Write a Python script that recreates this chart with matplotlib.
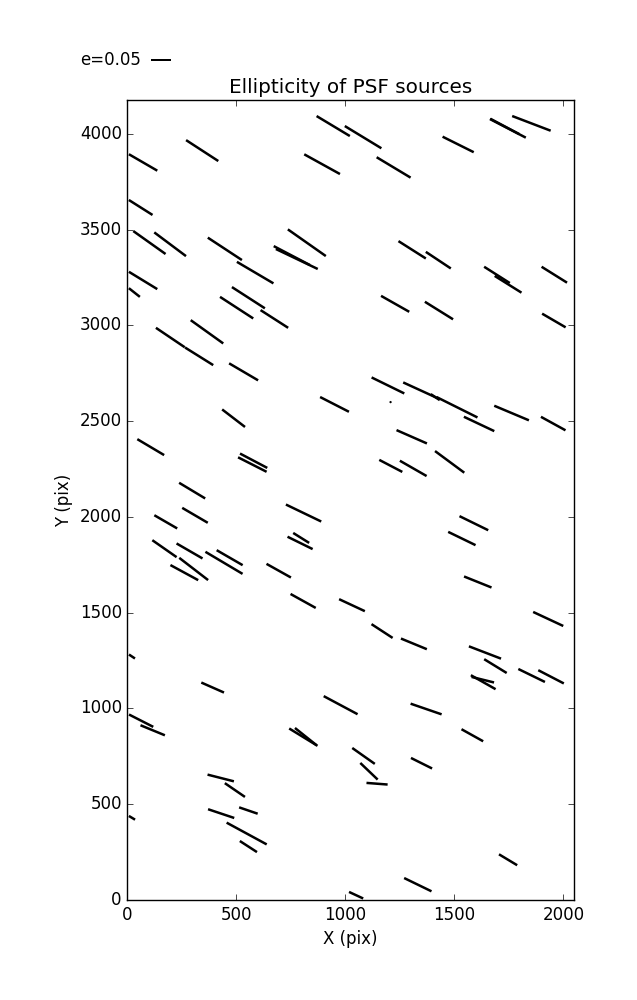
import numpy as np
import matplotlib
matplotlib.use('Agg')
import matplotlib.pyplot as plt

# source positions (pix), ellipticity and whisker angle (deg)
x_pix = [944, 1081, 343, 72, 893, 61, 101, 196, 447, 823,
         754, 777, 586, 72, 32, 555, 501, 1221, 1517, 1745,
         1731, 1853, 1306, 1426, 1695, 1746, 1958, 1228, 1429, 1956,
         674, 197, 329, 365, 533, 950, 487, 107, 579, 573,
         297, 1195, 1345, 1512, 1412, 1207, 1762, 1613, 1953, 1304,
         1478, 1208, 1311, 176, 310, 808, 792, 797, 170, 285,
         443, 469, 261, 304, 694, 806, 1030, 21, 391, 1589,
         1534, 1607, 1168, 1314, 1930, 1640, 1688, 1854, 1943, 1632,
         1630, 978, 63, 116, 807, 818, 428, 493, 430, 555,
         547, 555, 21, 1370, 1582, 1083, 1108, 1145, 1349, 1746,
         1332, 1049]
y_pix = [4040, 3982, 3912, 3850, 3841, 3615, 3432, 3423, 3399, 3431,
         3364, 3346, 3275, 3234, 3171, 3144, 3092, 3824, 3944, 4028,
         4038, 4054, 3394, 3340, 3263, 3214, 3264, 3112, 3077, 3025,
         3033, 2936, 2838, 2966, 2757, 2587, 2515, 2364, 2293, 2273,
         2137, 2686, 2660, 2572, 2625, 2599, 2542, 2485, 2487, 2418,
         2287, 2266, 2253, 1974, 2008, 2020, 1864, 1890, 1834, 1822,
         1760, 1787, 1709, 1728, 1719, 1561, 1539, 1271, 1109, 1967,
         1887, 1660, 1404, 1337, 1467, 1292, 1221, 1172, 1165, 1137,
         1150, 1017, 936, 886, 850, 853, 637, 574, 451, 467,
         347, 279, 429, 997, 860, 752, 672, 607, 714, 210,
         80, 25]
ellip = [0.097, 0.107, 0.096, 0.082, 0.102, 0.070, 0.099, 0.099, 0.102, 0.116,
         0.102, 0.116, 0.106, 0.083, 0.035, 0.098, 0.099, 0.099, 0.087, 0.101,
         0.082, 0.103, 0.081, 0.075, 0.076, 0.079, 0.075, 0.081, 0.083, 0.068,
         0.082, 0.087, 0.083, 0.100, 0.084, 0.081, 0.072, 0.078, 0.077, 0.080,
         0.076, 0.091, 0.096, 0.114, 0.027, 0.006, 0.094, 0.084, 0.070, 0.083,
         0.091, 0.065, 0.077, 0.066, 0.074, 0.098, 0.070, 0.047, 0.074, 0.075,
         0.108, 0.075, 0.079, 0.091, 0.070, 0.072, 0.071, 0.018, 0.062, 0.080,
         0.076, 0.074, 0.063, 0.070, 0.083, 0.086, 0.066, 0.074, 0.072, 0.071,
         0.058, 0.096, 0.068, 0.066, 0.083, 0.069, 0.068, 0.061, 0.069, 0.049,
         0.114, 0.051, 0.018, 0.082, 0.062, 0.069, 0.060, 0.053, 0.059, 0.053,
         0.076, 0.039]
pa_deg = [-31.0, -31.3, -33.0, -30.1, -28.9, -32.3, -35.4, -36.8, -33.3, -35.1,
          -27.6, -25.5, -30.5, -31.4, -38.3, -32.8, -33.0, -31.0, -26.5, -27.4,
          -28.0, -20.9, -32.4, -33.6, -32.4, -32.0, -32.0, -29.5, -31.9, -30.2,
          -32.7, -34.0, -32.0, -35.6, -30.4, -27.1, -37.5, -30.7, -27.8, -26.9,
          -31.0, -26.1, -24.6, -26.5, -33.7, -80.0, -22.8, -25.3, -28.8, -23.7,
          -36.5, -27.6, -29.8, -30.0, -30.3, -25.7, -26.2, -32.0, -34.9, -30.0,
          -30.7, -30.0, -28.5, -37.6, -29.2, -29.0, -25.0, -33.7, -23.8, -26.1,
          -25.9, -21.9, -33.1, -22.4, -25.0, -21.0, -31.5, -26.0, -27.4, -29.5,
          -13.9, -28.1, -27.0, -22.4, -31.5, -38.6, -14.3, -34.4, -18.5, -18.9,
          -28.5, -32.9, -31.0, -19.0, -29.1, -35.2, -43.7, -4.4, -26.5, -31.0,
          -25.9, -24.8]

plt.style.use('classic')

e = np.array(ellip)
th = np.radians(pa_deg)
u = e * np.cos(th)
v = e * np.sin(th)

fig = plt.figure(figsize=(6.37, 10), dpi=100, facecolor='white')
ax = fig.add_axes([0.2, 0.1, 0.701, 0.8])
q = ax.quiver(x_pix, y_pix, u, v, color='k', pivot='middle', angles='uv',
              scale_units='inches', scale=0.25, units='inches', width=0.025,
              headwidth=0, headlength=0, headaxislength=0)
ax.quiverkey(q, 0.237, 0.94, 0.05, 'e=0.05', labelpos='W',
             coordinates='figure', fontproperties={'size': 12})
ax.set_xlim(0, 2048)
ax.set_ylim(0, 4176)
ax.set_xticks([0, 500, 1000, 1500, 2000])
ax.set_yticks([0, 500, 1000, 1500, 2000, 2500, 3000, 3500, 4000])
ax.set_title('Ellipticity of PSF sources')
ax.set_xlabel('X (pix)')
ax.set_ylabel('Y (pix)')

plt.savefig('out.png', dpi=100, facecolor='white')
